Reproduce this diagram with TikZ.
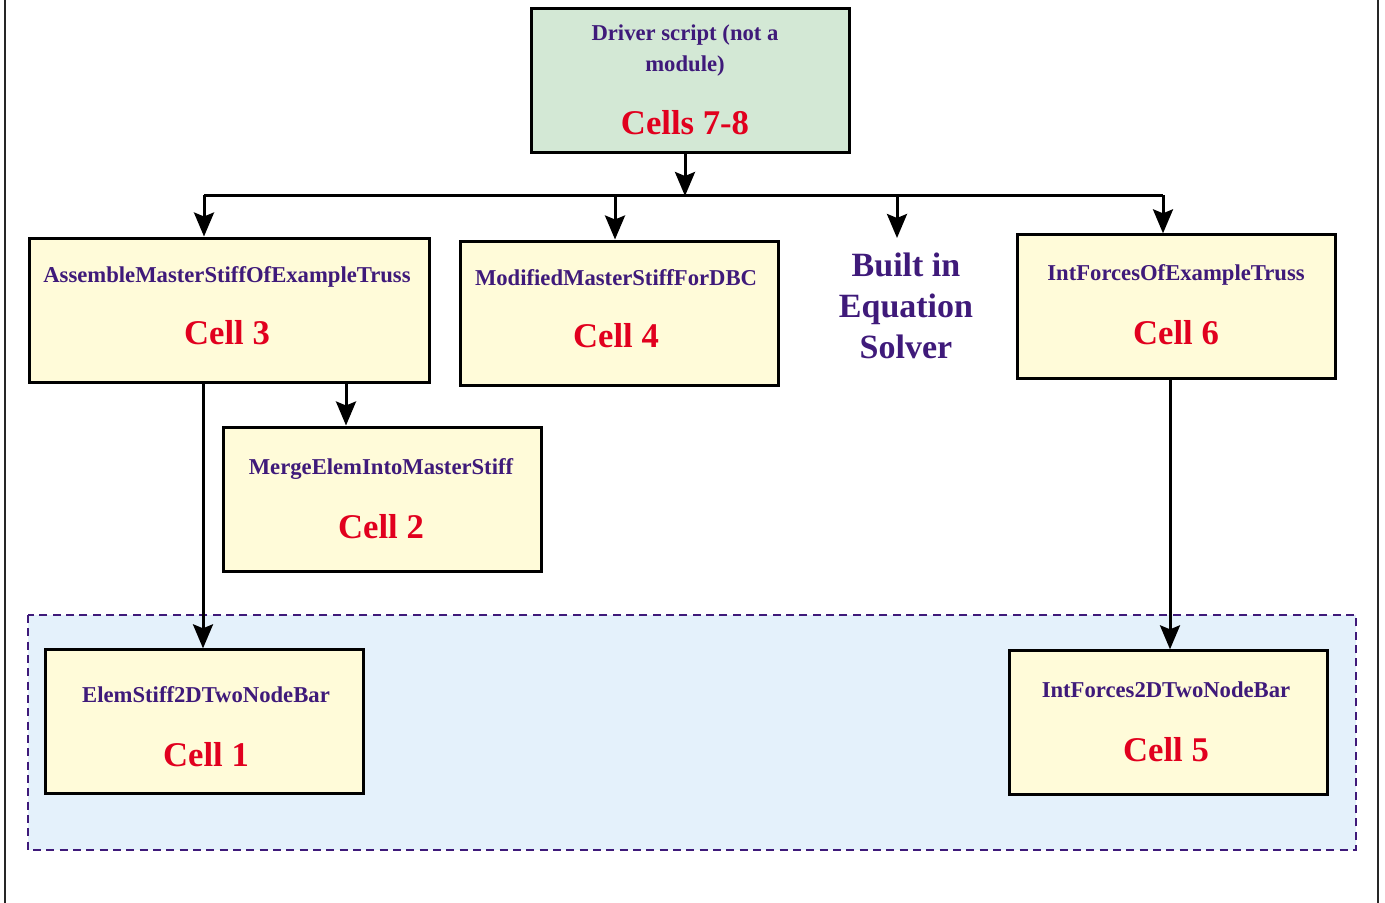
\documentclass[tikz,border=0pt]{standalone}
\usepackage{fontspec}
\setmainfont{Liberation Serif}
\usepackage{xcolor}
\usetikzlibrary{arrows.meta, positioning, calc}

\definecolor{txtpurple}{HTML}{3F1A7A}
\definecolor{cellred}{HTML}{E1001E}
\definecolor{boxyellow}{HTML}{FFFBD9}
\definecolor{drvgreen}{HTML}{D3E8D5}
\definecolor{zoneblue}{HTML}{E4F1FB}

\tikzset{
  modbox/.style={draw=black, line width=2.25pt, fill=boxyellow, minimum width=238.5pt, minimum height=107.5pt, inner sep=0pt},
  ttl/.style={text=txtpurple, font=\fontsize{17}{23}\selectfont\bfseries, anchor=base, inner sep=0pt},
  cell/.style={text=cellred, font=\fontsize{26}{30}\selectfont\bfseries, anchor=base, inner sep=0pt},
  conn/.style={line width=2.25pt},
  arr/.style={conn, -{Stealth[length=18pt, width=15pt, inset=3pt]}}
}

\begin{document}
\begin{tikzpicture}[x=0.75pt, y=-0.75pt]
  \useasboundingbox (0,0) rectangle (1385,903);

  % outer side rules
  \draw[line width=1.5pt, black!85] (5,0) -- (5,903);
  \draw[line width=1.5pt, black!85] (1378,0) -- (1378,903);

  % element-level zone
  \draw[txtpurple, line width=1.1pt, dash pattern=on 6pt off 4pt, fill=zoneblue] (28,615) rectangle (1356,850);

  % driver
  \node[modbox, fill=drvgreen, minimum height=108pt] (drv) at (690,80) {};
  \node[ttl] (drvT1) at (685,40) {Driver script (not a};
  \node[ttl] (drvT2) at (685,71) {module)};
  \node[cell] (drvC) at (685,134) {Cells 7-8};

  % top-level modules
  \node[modbox, minimum width=300pt, minimum height=108pt] (asm) at (229,310) {};
  \node[ttl] (asmT) at (227,282) {AssembleMasterStiffOfExampleTruss};
  \node[cell] (asmC) at (227,344) {Cell 3};

  \node[modbox, minimum height=108pt] (mod) at (619,313) {};
  \node[ttl] (modT) at (616,285) {ModifiedMasterStiffForDBC};
  \node[cell] (modC) at (616,347) {Cell 4};

  \node[text=txtpurple, font=\fontsize{25.5}{30.5}\selectfont\bfseries, align=center, inner sep=0pt] (slv) at (906,306) {Built in\\Equation\\Solver};

  \node[modbox] (ifo) at (1176,306.5) {};
  \node[ttl] (ifoT) at (1176,280) {IntForcesOfExampleTruss};
  \node[cell] (ifoC) at (1176,344) {Cell 6};

  \node[modbox, minimum height=108pt] (mrg) at (382,499) {};
  \node[ttl] (mrgT) at (381,474) {MergeElemIntoMasterStiff};
  \node[cell] (mrgC) at (381,538) {Cell 2};

  % element-level modules
  \node[modbox] (elm) at (204,721.5) {};
  \node[ttl] (elmT) at (206,702) {ElemStiff2DTwoNodeBar};
  \node[cell] (elmC) at (206,766) {Cell 1};

  \node[modbox] (if2) at (1168,722.5) {};
  \node[ttl] (if2T) at (1166,697) {IntForces2DTwoNodeBar};
  \node[cell] (if2C) at (1166,761) {Cell 5};

  % bus
  \coordinate (bus) at (685,195);
  \coordinate (busL) at (204,195);
  \coordinate (busR) at (1163,195);
  \coordinate (busM) at (615,195);
  \coordinate (busS) at (897,195);
  \coordinate (slvTop) at (897,238);
  \draw[conn] (busL) -- (busR);
  \draw[arr] (drv.south -| bus) -- ($(bus)+(0,1)$);
  \draw[arr] (busL) -- (busL |- asm.north);
  \draw[arr] (busM) -- (busM |- mod.north);
  \draw[arr] (busS) -- (slvTop);
  \draw[arr] (busR) -- (busR |- ifo.north);

  % calls
  \coordinate (asmA) at (346,382);
  \coordinate (asmB) at (203,382);
  \coordinate (ifoA) at (1170,378);
  \draw[arr] (asmA) -- (asmA |- mrg.north);
  \draw[arr] (asmB) -- (asmB |- elm.north);
  \draw[arr] (ifoA) -- (ifoA |- if2.north);
\end{tikzpicture}
\end{document}
